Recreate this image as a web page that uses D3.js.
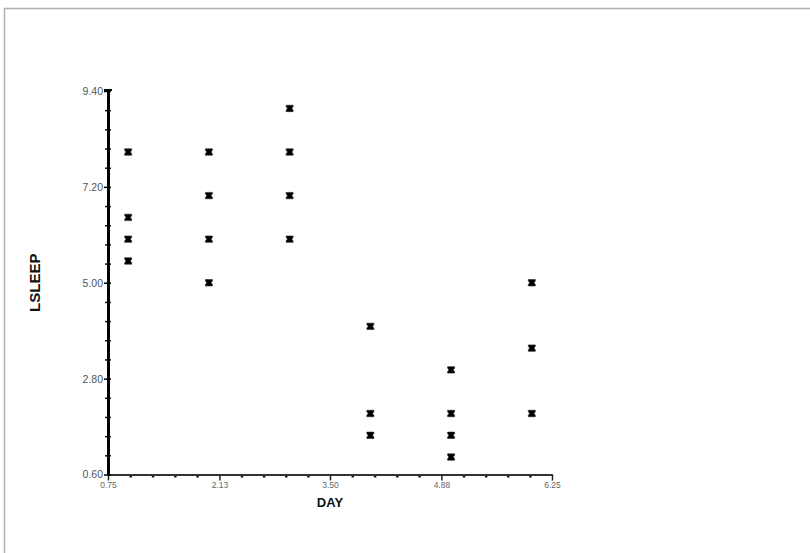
<!DOCTYPE html>
<html>
<head>
<meta charset="utf-8">
<script src="https://cdn.jsdelivr.net/npm/d3@7.9.0/dist/d3.min.js"></script>
<style>
  body { margin: 0; background: #fff; }
  svg { display: block; font-family: "Liberation Sans", Arial, sans-serif; }
</style>
</head>
<body>
<svg id="chart"></svg>
<script>
// values
const day = [1, 1, 1, 1, 2, 2, 2, 2, 3, 3, 3, 3, 4, 4, 4, 5, 5, 5, 5, 6, 6, 6];
const lsleep = [8, 6.5, 6, 5.5, 8, 7, 6, 5, 9, 8, 7, 6, 4, 2, 1.5, 3, 2, 1.5, 1, 5, 3.5, 2];
const xTicks = [0.75, 2.13, 3.5, 4.88, 6.25];
const yTicks = [0.6, 2.8, 5.0, 7.2, 9.4];

const width = 810;
const height = 553;

const svg = d3.select('#chart').attr('width', width).attr('height', height);

// light grey frame (left and top edges visible)
svg.append('rect')
  .attr('x', 4.5).attr('y', 8.5)
  .attr('width', 820).attr('height', 560)
  .attr('fill', 'none')
  .attr('stroke', '#b0b0b0')
  .attr('stroke-width', 1.5);

const x = d3.scaleLinear().domain([0.75, 6.25]).range([108, 552]);
const y = d3.scaleLinear().domain([0.6, 9.4]).range([474.5, 91]);

// minor ticks: 4 between each pair of major ticks
function minors(ticks) {
  const out = [];
  for (let i = 0; i < ticks.length - 1; i++) {
    const step = (ticks[i + 1] - ticks[i]) / 5;
    for (let k = 1; k < 5; k++) out.push(ticks[i] + k * step);
  }
  return out;
}

// x axis
const xMinor = svg.append('g')
  .attr('transform', `translate(0,${y(0.6)})`)
  .call(d3.axisBottom(x).tickValues(minors(xTicks)).tickSize(3).tickFormat(''));
xMinor.select('.domain').remove();
xMinor.selectAll('.tick line').attr('stroke', '#111').attr('stroke-width', 2.5);

const xAxis = svg.append('g')
  .attr('transform', `translate(0,${y(0.6)})`)
  .call(d3.axisBottom(x).tickValues(xTicks).tickSize(6).tickSizeOuter(0)
    .tickFormat(d3.format('.2f')));
xAxis.select('.domain').attr('stroke', '#333').attr('stroke-width', 2);
xAxis.selectAll('.tick line').attr('stroke', '#222').attr('stroke-width', 1.5);
xAxis.selectAll('.tick text')
  .attr('y', 7)
  .attr('fill', '#666')
  .style('font-size', '8.5px');

// y axis
const yMinor = svg.append('g')
  .attr('transform', `translate(${x(0.75)},0)`)
  .call(d3.axisLeft(y).tickValues(minors(yTicks)).tickFormat(''));
yMinor.select('.domain').remove();
yMinor.selectAll('.tick line').attr('x1', -3).attr('x2', 3)
  .attr('stroke', '#111').attr('stroke-width', 1.5);

const yAxis = svg.append('g')
  .attr('transform', `translate(${x(0.75)},0)`)
  .call(d3.axisLeft(y).tickValues(yTicks).tickSize(4).tickSizeOuter(0)
    .tickFormat(d3.format('.2f')));
yAxis.select('.domain').attr('stroke', '#000').attr('stroke-width', 3);
yAxis.selectAll('.tick line').attr('x1', -4).attr('x2', 3)
  .attr('stroke', '#000').attr('stroke-width', 1.5);
yAxis.selectAll('.tick text')
  .attr('x', -5)
  .attr('fill', '#555')
  .style('font-size', '10.5px');

// cap at top of y axis
svg.append('line')
  .attr('x1', x(0.75) - 4).attr('x2', x(0.75) + 4)
  .attr('y1', y(9.4) - 1).attr('y2', y(9.4) - 1)
  .attr('stroke', '#000').attr('stroke-width', 2);

// axis titles
svg.append('text')
  .attr('x', 330).attr('y', 507)
  .attr('text-anchor', 'middle')
  .attr('font-weight', 'bold')
  .style('font-size', '13px')
  .attr('fill', '#111')
  .text('DAY');

svg.append('text')
  .attr('transform', `translate(40,${y(5.0)}) rotate(-90)`)
  .attr('text-anchor', 'middle')
  .attr('font-weight', 'bold')
  .style('font-size', '15px')
  .attr('fill', '#111')
  .text('LSLEEP');

// filled hourglass markers (shallow waist, nearly square)
const marker = 'M-3.5,-3.2H3.5V-1.8L2.2,0L3.5,1.8V3.2H-3.5V1.8L-2.2,0L-3.5,-1.8Z';
svg.append('g')
  .selectAll('path')
  .data(day)
  .join('path')
  .attr('transform', (d, i) => `translate(${x(d)},${y(lsleep[i])})`)
  .attr('d', marker)
  .attr('fill', '#000')
  .attr('stroke', '#222')
  .attr('stroke-width', 0.6);
</script>
</body>
</html>
